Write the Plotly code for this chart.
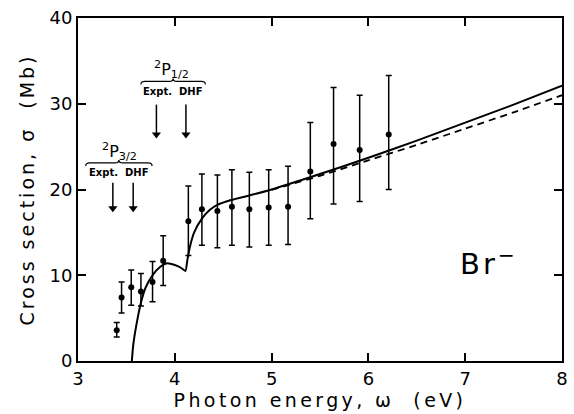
import plotly.graph_objects as go

# Experimental data
omega_exp = [3.40, 3.45, 3.55, 3.65, 3.77, 3.88, 4.14, 4.28, 4.44, 4.59, 4.77, 4.97, 5.17, 5.40, 5.64, 5.91, 6.21]
sigma_exp = [3.6, 7.4, 8.6, 8.1, 9.2, 11.7, 16.3, 17.7, 17.5, 18.0, 17.7, 17.9, 18.0, 22.1, 25.3, 24.6, 26.4]
sigma_upper = [4.5, 9.2, 10.6, 10.2, 11.6, 14.6, 20.4, 21.8, 21.7, 22.3, 22.0, 22.3, 22.7, 27.8, 31.9, 31.0, 33.3]
sigma_lower = [2.8, 5.6, 6.5, 6.4, 6.9, 8.8, 12.3, 13.5, 13.2, 13.5, 13.3, 13.5, 13.6, 16.6, 18.3, 18.6, 20.0]

# Theory (solid)
omega_solid = [3.556, 3.57, 3.60, 3.65, 3.70, 3.77, 3.85, 3.92, 4.00, 4.06, 4.11, 4.13, 4.16, 4.20, 4.28,
               4.36, 4.44, 4.59, 4.77, 5.0, 5.5, 6.0, 6.5, 7.0, 7.5, 8.0]
sigma_solid = [0.0, 1.8, 4.0, 6.8, 8.6, 10.0, 11.0, 11.4, 11.2, 10.9, 10.5, 11.8, 13.5, 15.0, 16.6,
               17.6, 18.2, 18.8, 19.3, 20.0, 21.8, 23.7, 25.7, 27.8, 29.9, 32.1]

# Theory (dashed)
omega_dash = [5.0, 5.5, 6.0, 6.5, 7.0, 7.5, 8.0]
sigma_dash = [19.95, 21.6, 23.4, 25.2, 27.1, 29.0, 31.0]

# Threshold arrows (Expt., DHF)
arrows_p32 = [3.36, 3.57]
arrows_p12 = [3.81, 4.115]
arrow_p32_span = [20.8, 17.8]
arrow_p12_span = [29.9, 26.4]

FONT = "DejaVu Sans"
err_plus = [u - s for u, s in zip(sigma_upper, sigma_exp)]
err_minus = [s - l for s, l in zip(sigma_exp, sigma_lower)]

fig = go.Figure()
fig.add_trace(go.Scatter(x=omega_solid, y=sigma_solid, mode="lines",
                         line=dict(color="black", width=2, shape="spline", smoothing=0.5),
                         showlegend=False, hoverinfo="skip"))
fig.add_trace(go.Scatter(x=omega_dash, y=sigma_dash, mode="lines",
                         line=dict(color="black", width=1.8, dash="7px,5px", shape="spline", smoothing=0.5),
                         showlegend=False, hoverinfo="skip"))
fig.add_trace(go.Scatter(x=omega_exp, y=sigma_exp, mode="markers",
                         marker=dict(color="black", size=6),
                         error_y=dict(type="data", symmetric=False, array=err_plus, arrayminus=err_minus,
                                      color="black", thickness=1.5, width=3),
                         showlegend=False))

# arrows: shafts + heads
ax_x, ax_y, head_x, head_y = [], [], [], []
for xs, span in ((arrows_p32, arrow_p32_span), (arrows_p12, arrow_p12_span)):
    for xa in xs:
        ax_x += [xa, xa, None]
        ax_y += [span[0], span[1], None]
        head_x.append(xa)
        head_y.append(span[1])
fig.add_trace(go.Scatter(x=ax_x, y=ax_y, mode="lines", line=dict(color="black", width=1.5),
                         showlegend=False, hoverinfo="skip"))
fig.add_trace(go.Scatter(x=head_x, y=head_y, mode="markers",
                         marker=dict(symbol="triangle-down", size=8, color="black"),
                         showlegend=False, hoverinfo="skip"))

def brace(x0, x1, y, dx, dy):
    xm = (x0 + x1) / 2
    return (f"M {x0},{y - dy} Q {x0},{y} {x0 + dx},{y} L {xm - dx},{y} "
            f"Q {xm},{y} {xm},{y + dy} Q {xm},{y} {xm + dx},{y} L {x1 - dx},{y} Q {x1},{y} {x1},{y - dy}")

dxu = 1 / 98.0
dyu = 1 / 8.6
fig.add_shape(type="path", path=brace(3.08, 3.765, 23.1, 4 * dxu, 3 * dyu),
              line=dict(color="black", width=1.2), xref="x", yref="y")
fig.add_shape(type="path", path=brace(3.65, 4.316, 32.6, 4 * dxu, 3 * dyu),
              line=dict(color="black", width=1.2), xref="x", yref="y")

fig.add_annotation(x=3.43, y=24.4, text="<sup>2</sup>P<sub>3/2</sub>", showarrow=False,
                   font=dict(family=FONT, size=16, color="black"))
fig.add_annotation(x=3.42, y=22.0, text="<b>Expt.  DHF</b>", showarrow=False,
                   font=dict(family=FONT, size=10, color="black"))
fig.add_annotation(x=3.97, y=34.0, text="<sup>2</sup>P<sub>1/2</sub>", showarrow=False,
                   font=dict(family=FONT, size=16, color="black"))
fig.add_annotation(x=3.98, y=31.4, text="<b>Expt.  DHF</b>", showarrow=False,
                   font=dict(family=FONT, size=10, color="black"))
fig.add_annotation(x=7.25, y=11.6, text="<span style=\"letter-spacing:3px\">Br<sup>\u2212</sup></span>", showarrow=False,
                   font=dict(family=FONT, size=29, color="black"))

axis_common = dict(showline=True, linecolor="black", linewidth=2, mirror="ticks",
                   ticks="inside", ticklen=8, tickwidth=1.5, tickcolor="black",
                   showgrid=False, zeroline=False,
                   tickfont=dict(family=FONT, size=18, color="black"))

fig.update_xaxes(range=[3, 8], dtick=1, tick0=3,
                 title=dict(text="<span style=\"letter-spacing:3.4px\">Photon energy, \u03c9  (eV)</span>",
                            font=dict(family=FONT, size=19, color="black"), standoff=6),
                 **axis_common)
fig.update_yaxes(range=[0, 40], dtick=10, tick0=0,
                 title=dict(text="<span style=\"letter-spacing:3px\">Cross section, \u03c3  (Mb)</span>",
                            font=dict(family=FONT, size=19, color="black"), standoff=10),
                 **axis_common)

fig.update_layout(width=574, height=414, margin=dict(l=78, r=6, t=18, b=52),
                  plot_bgcolor="white", paper_bgcolor="white", showlegend=False)

fig.write_html("out.html")
